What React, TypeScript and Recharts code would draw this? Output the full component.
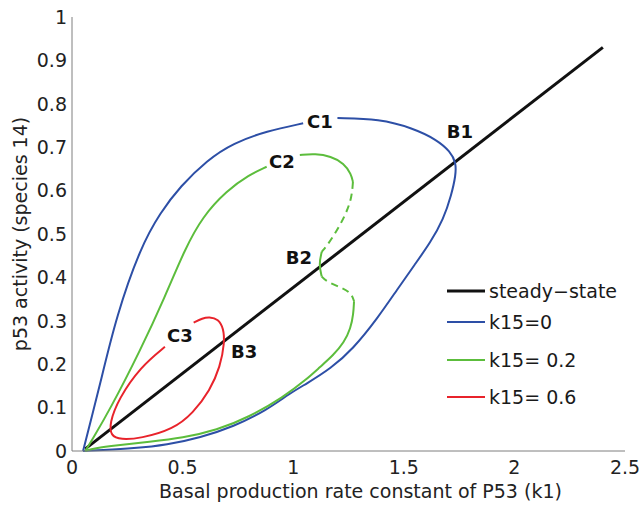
import {
  LineChart,
  Line,
  XAxis,
  YAxis,
  Legend,
  ReferenceDot,
} from "recharts";

type Pt = [number, number];

const xTicks = [0, 0.5, 1, 1.5, 2, 2.5];
const yTicks = [0, 0.1, 0.2, 0.3, 0.4, 0.5, 0.6, 0.7, 0.8, 0.9, 1];

const steadyState: Pt[] = [
  [0.06, 0.005],
  [2.4, 0.93],
];

// k15 = 0, split at the C1 label
const blueUpper: Pt[] = [
  [0.05, 0], [0.09, 0.08], [0.13, 0.16], [0.2, 0.31], [0.31, 0.47], [0.4, 0.55],
  [0.49, 0.61], [0.61, 0.67], [0.73, 0.71], [0.88, 0.737], [1.045, 0.755],
];
const blueRest: Pt[] = [
  [1.2, 0.767], [1.39, 0.765], [1.54, 0.744], [1.65, 0.717], [1.71, 0.69],
  [1.736, 0.665], [1.735, 0.635], [1.715, 0.59], [1.68, 0.535], [1.62, 0.48],
  [1.55, 0.43], [1.47, 0.372], [1.38, 0.305], [1.27, 0.235], [1.17, 0.19],
  [1.06, 0.155], [0.985, 0.133], [0.88, 0.094], [0.73, 0.056], [0.58, 0.031],
  [0.43, 0.014], [0.28, 0.006], [0.13, 0.002], [0.05, 0],
];

// k15 = 0.2, solid and dashed (unstable) pieces
const greenUpper: Pt[] = [
  [0.06, 0], [0.09, 0.025], [0.17, 0.094], [0.31, 0.233], [0.42, 0.355],
  [0.51, 0.465], [0.59, 0.54], [0.7, 0.6], [0.8, 0.636], [0.88, 0.655],
];
const greenTop: Pt[] = [
  [1.03, 0.682], [1.1, 0.685], [1.17, 0.679], [1.23, 0.663], [1.262, 0.638],
  [1.27, 0.62],
];
const greenDash1: Pt[] = [
  [1.27, 0.62], [1.265, 0.585], [1.24, 0.548], [1.2, 0.51], [1.16, 0.478],
  [1.129, 0.459],
];
const greenMid: Pt[] = [
  [1.129, 0.459], [1.116, 0.43], [1.129, 0.402],
];
const greenDash2: Pt[] = [
  [1.129, 0.402], [1.151, 0.39], [1.225, 0.375], [1.264, 0.363], [1.275, 0.345],
];
const greenLower: Pt[] = [
  [1.275, 0.345], [1.272, 0.315], [1.26, 0.283], [1.23, 0.25], [1.18, 0.22],
  [1.12, 0.193], [1.06, 0.165], [0.955, 0.124], [0.8, 0.078], [0.655, 0.048],
  [0.5, 0.03], [0.35, 0.021], [0.2, 0.013], [0.1, 0.006], [0.06, 0],
];

// k15 = 0.6
const redLoop: Pt[] = [
  [0.42, 0.24], [0.31, 0.194], [0.21, 0.12], [0.17, 0.064], [0.175, 0.035],
  [0.22, 0.026], [0.31, 0.029], [0.457, 0.05], [0.547, 0.087], [0.624, 0.14],
  [0.67, 0.194], [0.69, 0.25], [0.685, 0.282], [0.662, 0.304], [0.62, 0.309],
  [0.59, 0.306], [0.55, 0.296],
];

const annotations: { label: string; x: number; y: number }[] = [
  { label: "C1", x: 1.121, y: 0.76 },
  { label: "B1", x: 1.754, y: 0.737 },
  { label: "C2", x: 0.949, y: 0.666 },
  { label: "B2", x: 1.026, y: 0.445 },
  { label: "C3", x: 0.488, y: 0.267 },
  { label: "B3", x: 0.778, y: 0.228 },
];

const legendLabels = ["steady\u2212state", "k15=0", "k15= 0.2", "k15= 0.6"];

const FONT = '"DejaVu Sans", sans-serif';
const AXIS = "#7f7f7f";
const BLACK = "#111111";
const BLUE = "#2d4fa6";
const GREEN = "#5cbd3c";
const RED = "#e8232b";

const legendColors = [BLACK, BLUE, GREEN, RED];
const legendWidths = [3.2, 2, 2, 2];
const legendRows = [21, 52, 90, 127];

const toData = (pts: Pt[]) => pts.map(([x, y]) => ({ x, y }));

const series = [
  { id: "ss", pts: steadyState, color: BLACK, width: 3, dash: undefined, curve: "linear" },
  { id: "b1", pts: blueUpper, color: BLUE, width: 2, dash: undefined, curve: "basis" },
  { id: "b2", pts: blueRest, color: BLUE, width: 2, dash: undefined, curve: "basis" },
  { id: "g1", pts: greenUpper, color: GREEN, width: 2, dash: undefined, curve: "basis" },
  { id: "g2", pts: greenTop, color: GREEN, width: 2, dash: undefined, curve: "basis" },
  { id: "g3", pts: greenDash1, color: GREEN, width: 2, dash: "7 5", curve: "basis" },
  { id: "g4", pts: greenMid, color: GREEN, width: 2, dash: undefined, curve: "basis" },
  { id: "g5", pts: greenDash2, color: GREEN, width: 2, dash: "7 5", curve: "basis" },
  { id: "g6", pts: greenLower, color: GREEN, width: 2, dash: undefined, curve: "basis" },
  { id: "r1", pts: redLoop, color: RED, width: 2, dash: undefined, curve: "basis" },
];

function LegendBox() {
  return (
    <svg width={200} height={150} style={{ display: "block" }}>
      {legendLabels.map((lbl, i) => (
        <g key={lbl}>
          <line
            x1={7}
            x2={45}
            y1={legendRows[i]}
            y2={legendRows[i]}
            stroke={legendColors[i]}
            strokeWidth={legendWidths[i]}
          />
          <text
            x={49}
            y={legendRows[i]}
            dominantBaseline="central"
            fontFamily={FONT}
            fontSize={19}
            fill="#1a1a1a"
          >
            {lbl}
          </text>
        </g>
      ))}
    </svg>
  );
}

const tickStyle = { fill: "#222", fontSize: 19, fontFamily: FONT };

export default function App() {
  return (
    <div style={{ position: "absolute", left: 0, top: 0, background: "#fff" }}>
      <LineChart
        width={642}
        height={505}
        margin={{ top: 17, right: 17, left: 12, bottom: 24 }}
      >
        <XAxis
          xAxisId="bottom"
          type="number"
          dataKey="x"
          domain={[0, 2.5]}
          ticks={xTicks}
          height={30}
          stroke={AXIS}
          tickLine={false}
          tickSize={0}
          tickMargin={10}
          tick={tickStyle}
          label={{
            content: ({ viewBox }: any) => (
              <text
                x={viewBox.x + viewBox.width / 2 + 12}
                y={viewBox.y + viewBox.height + 10}
                textAnchor="middle"
                dominantBaseline="central"
                fontFamily={FONT}
                fontSize={19}
                fill="#222"
              >
                Basal production rate constant of P53 (k1)
              </text>
            ),
          }}
        />
        <XAxis
          xAxisId="bottomTicks"
          type="number"
          dataKey="x"
          domain={[0, 2.5]}
          ticks={xTicks}
          height={0}
          mirror
          stroke={AXIS}
          tickSize={5}
          tick={false}
        />
        <XAxis
          xAxisId="top"
          orientation="top"
          type="number"
          dataKey="x"
          domain={[0, 2.5]}
          ticks={xTicks}
          height={0}
          mirror
          stroke={AXIS}
          tickSize={5}
          tick={false}
        />
        <YAxis
          yAxisId="left"
          type="number"
          domain={[0, 1]}
          ticks={yTicks}
          width={60}
          stroke={AXIS}
          tickLine={false}
          tickSize={0}
          tickMargin={5}
          tick={tickStyle}
          label={{
            content: ({ viewBox }: any) => {
              const cx = viewBox.x + 8;
              const cy = viewBox.y + viewBox.height / 2;
              return (
                <text
                  x={cx}
                  y={cy}
                  transform={`rotate(-90, ${cx}, ${cy})`}
                  textAnchor="middle"
                  dominantBaseline="central"
                  fontFamily={FONT}
                  fontSize={19}
                  fill="#222"
                >
                  p53 activity (species 14)
                </text>
              );
            },
          }}
        />
        <YAxis
          yAxisId="leftTicks"
          type="number"
          domain={[0, 1]}
          ticks={yTicks}
          width={0}
          mirror
          stroke={AXIS}
          tickSize={5}
          tick={false}
        />
        <YAxis
          yAxisId="right"
          orientation="right"
          type="number"
          domain={[0, 1]}
          ticks={yTicks}
          width={0}
          mirror
          stroke={AXIS}
          tickSize={5}
          tick={false}
        />
        {series.map((s) => (
          <Line
            key={s.id}
            xAxisId="bottom"
            yAxisId="left"
            data={toData(s.pts)}
            dataKey="y"
            type={s.curve as any}
            stroke={s.color}
            strokeWidth={s.width}
            strokeDasharray={s.dash}
            dot={false}
            activeDot={false}
            legendType="none"
            isAnimationActive={false}
          />
        ))}
        {annotations.map((a) => (
          <ReferenceDot
            key={a.label}
            xAxisId="bottom"
            yAxisId="left"
            x={a.x}
            y={a.y}
            r={0}
            fill="none"
            stroke="none"
            label={{
              value: a.label,
              position: "center",
              fill: "#111",
              fontSize: 18,
              fontWeight: "bold",
              fontFamily: FONT,
            }}
          />
        ))}
        <Legend
          layout="vertical"
          align="center"
          verticalAlign="middle"
          content={() => <LegendBox />}
          wrapperStyle={{ left: 440, top: 270, width: 200, height: 150 }}
        />
      </LineChart>
    </div>
  );
}
